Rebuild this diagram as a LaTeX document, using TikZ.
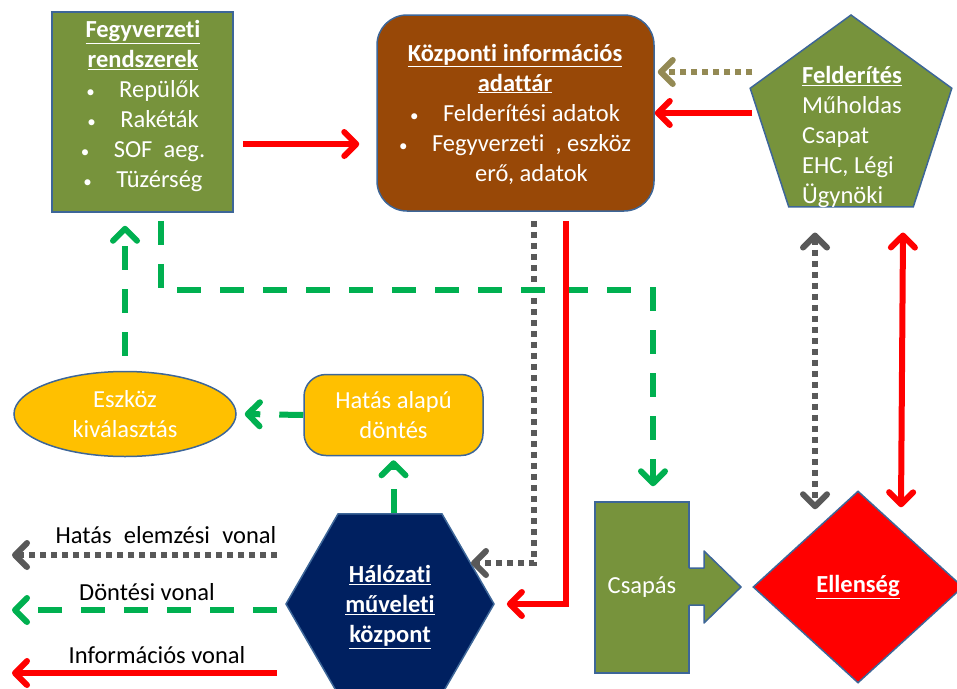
\documentclass[tikz,border=0pt]{standalone}
\usepackage{fontspec}
\setmainfont{Carlito}[Ligatures={NoCommon,NoContextual},Contextuals=NoAlternate]
\usetikzlibrary{shapes.geometric,shapes.misc,arrows.meta,calc}
\definecolor{olivec}{HTML}{77933C}
\definecolor{edgec}{HTML}{3D6698}
\definecolor{brownc}{HTML}{984807}
\definecolor{goldc}{HTML}{FFC000}
\definecolor{navyc}{HTML}{002060}
\definecolor{redc}{HTML}{FF0000}
\definecolor{greenc}{HTML}{00B050}
\definecolor{grayc}{HTML}{595959}
\definecolor{khakic}{HTML}{948A54}
\newcommand{\bigtxt}{\fontsize{24.5pt}{30pt}\selectfont}
\newcommand{\bul}{{\fontsize{17pt}{17pt}\selectfont\textbullet}\hspace{1em}}

\tikzset{
  shapebox/.style={draw=edgec, line width=1.5pt, text=white, inner sep=0pt, font=\bigtxt},
  lbl/.style={text=white, font=\bigtxt, align=center, inner sep=0pt},
  legendtxt/.style={text=black, font=\bigtxt, inner sep=0pt},
  infoline/.style={draw=redc, line width=6pt},
  decline/.style={draw=greenc, line width=6pt, dash pattern=on 24pt off 19pt},
  analine/.style={draw=grayc, line width=6pt, dash pattern=on 6pt off 5pt},
  khakiline/.style={draw=khakic, line width=6pt, dash pattern=on 6pt off 5pt},
}

\begin{document}
\begin{tikzpicture}[x=1pt,y=-1pt,>={Straight Barb[length=12pt,width=24pt,round]}]
  \useasboundingbox (0,0) rectangle (957,688);

  % boxes
  \node[shapebox, fill=olivec, chamfered rectangle,
    chamfered rectangle corners={north west,north east},
    chamfered rectangle xsep=30pt, chamfered rectangle ysep=30pt,
    minimum width=181pt, minimum height=200pt] (fegy) at (142.5,112) {};
  \node[lbl] (fegytxt) at (143,106) {\underline{\textbf{Fegyverzeti}}\\\underline{\textbf{rendszerek}}\\
    \bul Repülők\\\bul Rakéták\\
    \bul SOF\ \ aeg.\\\bul Tüzérség};

  \node[shapebox, fill=brownc, rounded corners=30pt,
    minimum width=277pt, minimum height=196pt] (kozp) at (515.5,113) {};
  \node[lbl] (kozptxt) at (515,114) {\underline{\textbf{Központi információs}}\\\underline{\textbf{adattár}}\\
    \bul Felderítési adatok\\
    \bul Fegyverzeti\ \ , eszköz\\
    \phantom{\bul}erő, adatok};

  \node[shapebox, fill=olivec, regular polygon, regular polygon sides=5,
    minimum size=212pt] (felder) at (851,121) {};
  \node[lbl, align=left, anchor=west] (feldtxt) at (802,137) {\underline{\textbf{Felderítés}}\\Műholdas\\Csapat\\EHC, Légi\\Ügynöki};

  \node[shapebox, fill=goldc, ellipse, align=center,
    minimum width=222pt, minimum height=85pt] (eszk) at (125,414) {Eszköz\\kiválasztás};
  \node[shapebox, fill=goldc, rounded corners=22pt, align=center,
    minimum width=179pt, minimum height=81pt] (hatas) at (393.5,415) {Hatás alapú\\döntés};

  \node[shapebox, fill=navyc, regular polygon, regular polygon sides=6,
    minimum size=208pt] (hub) at (390,604) {};
  \node[lbl] (hubtxt) at (390,607) {\underline{\textbf{Hálózati}}\\\underline{\textbf{műveleti}}\\\underline{\textbf{központ}}};

  \node[shapebox, fill=olivec, minimum width=94pt, minimum height=171pt] (csapas) at (642,587.5) {Csapás};
  \fill[olivec] (687,568) -- (704,568) -- (704,551) -- (741,587) -- (704,623) -- (704,605) -- (687,605) -- cycle;
  \draw[edgec, line width=1.5pt, line join=round] (689,568) -- (704,568) -- (704,551) -- (741,587) -- (704,623) -- (704,605) -- (689,605);

  \node[shapebox, fill=redc, diamond, minimum width=210pt, minimum height=192pt] (ellen) at (858,587) {\underline{\textbf{Ellenség}}};

  % legend
  \node[legendtxt] (lgana) at (166,535) {Hatás\hspace{0.5em}elemzési\hspace{0.5em}vonal};
  \node[legendtxt] (lgdec) at (147,592) {Döntési vonal};
  \node[legendtxt] (lginfo) at (157,655) {Információs vonal};
  \coordinate (anaS) at (277,555);
  \coordinate (anaE) at (12,555);
  \coordinate (decS) at (277,610);
  \coordinate (decE) at (12,610);
  \coordinate (infS) at (277,673);
  \coordinate (infE) at (12,673);

  % connectors
  \draw[khakiline,->] ($(felder.corner 2 |- 0,72)+(3,0)$) -- ($(kozp.east |- 0,72)+(3,0)$);
  \draw[infoline,->] ($(felder.corner 2 |- 0,113)+(3,0)$) -- (kozp.east |- 0,113);
  \draw[infoline,->] ($(fegy.east)+(9,32)$) -- ($(kozp.west)+(-17,31)$);
  \draw[analine,<->] ($(felder.south)+(-36,25)$) -- ($(ellen.north)+(-43,19)$);
  \draw[infoline,<->] ($(felder.south)+(52,25)$) -- ($(ellen.north)+(43,17)$);
  \draw[analine,->] ($(kozp.south)+(18,9)$) |- ($(hub.center)+(81,-41)$);
  \draw[decline,->] ($(fegy.south)+(18,8)$) |- ($(csapas.north)+(11,-211)$) -- ($(csapas.north)+(11,-15)$);
  \draw[infoline,->] ($(kozp.south)+(50,9)$) |- ($(hub.east)+(12,0)$);
  \draw[decline,->] ($(eszk.north)+(0,-15)$) -- ($(fegy.south)+(-17.5,13)$);
  \draw[decline,->] (hatas.west) -- ($(eszk.east)+(8,0)$);
  \draw[decline,->] (hub.north -| hatas.south) -- ($(hatas.south)+(0,4)$);
  \draw[analine,->] (anaS) -- (anaE);
  \draw[decline,->] (decS) -- (decE);
  \draw[infoline,->] (infS) -- (infE);
\end{tikzpicture}
\end{document}
